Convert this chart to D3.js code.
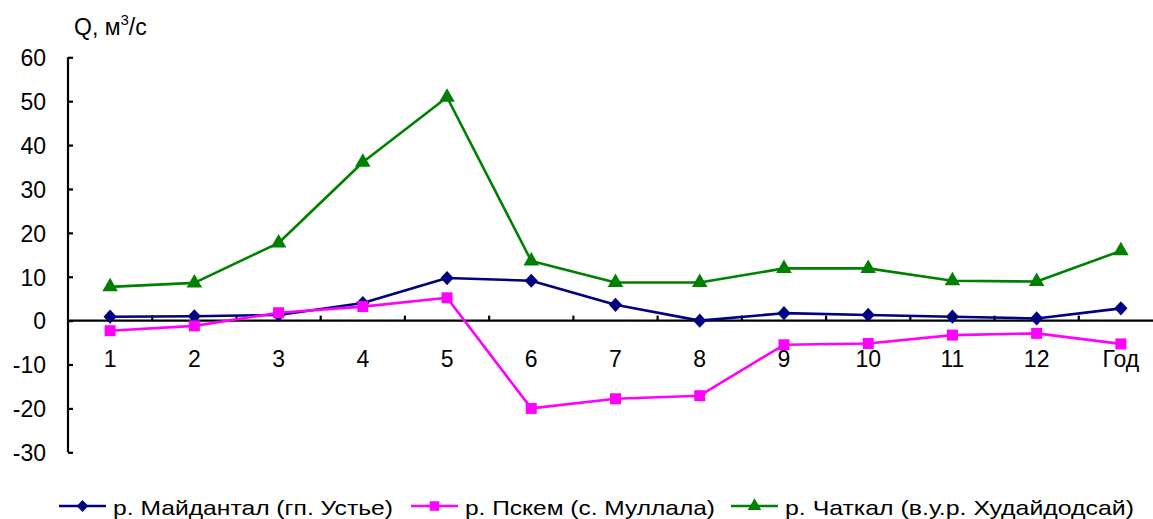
<!DOCTYPE html>
<html>
<head>
<meta charset="utf-8">
<script src="https://cdn.jsdelivr.net/npm/d3@7"></script>
<style>
  html, body { margin: 0; padding: 0; background: #fff; }
  svg { display: block; font-family: "Liberation Sans", Arial, sans-serif; }
</style>
</head>
<body>
<svg id="chart" width="1153" height="519"></svg>
<script>
// Monthly discharge change by river (m³/s), months 1–12 plus annual
const categories = ["1", "2", "3", "4", "5", "6", "7", "8", "9", "10", "11", "12", "Год"];
const maidantal = [0.9, 1.0, 1.3, 4.0, 9.7, 9.1, 3.6, 0.0, 1.7, 1.3, 0.9, 0.5, 2.8];
const pskem = [-2.3, -1.2, 1.8, 3.2, 5.2, -20.0, -17.8, -17.1, -5.5, -5.2, -3.3, -2.9, -5.3];
const chatkal = [7.7, 8.6, 17.7, 36.1, 50.9, 13.6, 8.7, 8.7, 11.9, 11.9, 9.1, 8.9, 15.9];
const yTicks = [60, 50, 40, 30, 20, 10, 0, -10, -20, -30];

// Diamond marker a little wider than d3's default, closer to a rotated square
const wideDiamond = {
  draw(ctx, size) {
    const h = Math.sqrt(size) * 0.62, w = Math.sqrt(size) * 0.58;
    ctx.moveTo(0, -h); ctx.lineTo(w, 0); ctx.lineTo(0, h); ctx.lineTo(-w, 0); ctx.closePath();
  }
};

const series = [
  { name: "р. Майдантал (гп. Устье)", values: maidantal, color: "#000080", symbol: wideDiamond, size: 130, legendW: 280 },
  { name: "р. Пскем (с. Муллала)", values: pskem, color: "#FF00FF", symbol: d3.symbolSquare, size: 121, legendW: 250 },
  { name: "р. Чаткал (в.у.р. Худайдодсай)", values: chatkal, color: "#008000", symbol: d3.symbolTriangle, size: 105, legendW: 349 }
];

const svg = d3.select("#chart");
const plotLeft = 68, plotRight = 1163, plotTop = 57.3, plotBottom = 452.3;

const x = d3.scaleBand().domain(categories).range([plotLeft, plotRight]).padding(0);
const y = d3.scaleLinear().domain([-30, 60]).range([plotBottom, plotTop]);
const cx = c => x(c) + x.bandwidth() / 2;

// Y axis: ticks point inward, labels on the left
const yAxis = svg.append("g").attr("transform", `translate(${plotLeft},0)`)
  .call(d3.axisLeft(y).tickValues(yTicks).tickSize(-5).tickFormat(d => String(d)));
yAxis.select(".domain").attr("stroke", "#000").attr("stroke-width", 2.2).attr("d", `M0,${plotTop}V${plotBottom}`);
yAxis.selectAll(".tick line").attr("stroke", "#000").attr("stroke-width", 2.2);
yAxis.selectAll(".tick text").attr("font-size", 23).attr("fill", "#000").attr("dy", "0.36em").attr("x", -22);

// X axis at zero with ticks between categories pointing up
const xAxisG = svg.append("g").attr("transform", `translate(0,${y(0)})`);
xAxisG.append("line").attr("x1", plotLeft).attr("x2", 1153).attr("y1", 0).attr("y2", 0)
  .attr("stroke", "#000").attr("stroke-width", 2.2);
xAxisG.selectAll("line.tk").data(categories.slice(1)).join("line").attr("class", "tk")
  .attr("x1", d => x(d)).attr("x2", d => x(d)).attr("y1", 0).attr("y2", -5)
  .attr("stroke", "#000").attr("stroke-width", 2.2);
xAxisG.selectAll("text").data(categories).join("text")
  .attr("x", d => cx(d)).attr("y", 46).attr("text-anchor", "middle")
  .attr("font-size", 23).attr("fill", "#000").text(d => d);

// Axis title
const title = svg.append("text").attr("x", 74).attr("y", 35).attr("font-size", 23).attr("fill", "#000");
title.append("tspan").text("Q, м");
title.append("tspan").attr("font-size", 15).attr("dy", -10).text("3");
title.append("tspan").attr("dy", 10).text("/с");

// Series lines and markers
const line = d3.line().x((d, i) => cx(categories[i])).y(d => y(d));
series.forEach(s => {
  svg.append("path").datum(s.values).attr("d", line)
    .attr("fill", "none").attr("stroke", s.color).attr("stroke-width", 2.6).attr("stroke-linejoin", "round");
  svg.append("g").selectAll("path").data(s.values).join("path")
    .attr("d", d3.symbol().type(s.symbol).size(s.size))
    .attr("transform", (d, i) => `translate(${cx(categories[i])},${y(d)})`)
    .attr("fill", s.color);
});

// Legend
const legendX = [59, 411, 731];
const legendY = 506;
series.forEach((s, i) => {
  const g = svg.append("g").attr("transform", `translate(${legendX[i]},${legendY})`);
  g.append("line").attr("x1", 0).attr("x2", 47).attr("y1", 0).attr("y2", 0)
    .attr("stroke", s.color).attr("stroke-width", 2.6);
  g.append("path").attr("d", d3.symbol().type(s.symbol).size(s.size * 0.75)).attr("transform", "translate(23.5,0)").attr("fill", s.color);
  g.append("text").attr("x", 54).attr("y", 9).attr("font-size", 21).attr("fill", "#000")
    .attr("textLength", s.legendW).attr("lengthAdjust", "spacingAndGlyphs").text(s.name);
});
</script>
</body>
</html>
